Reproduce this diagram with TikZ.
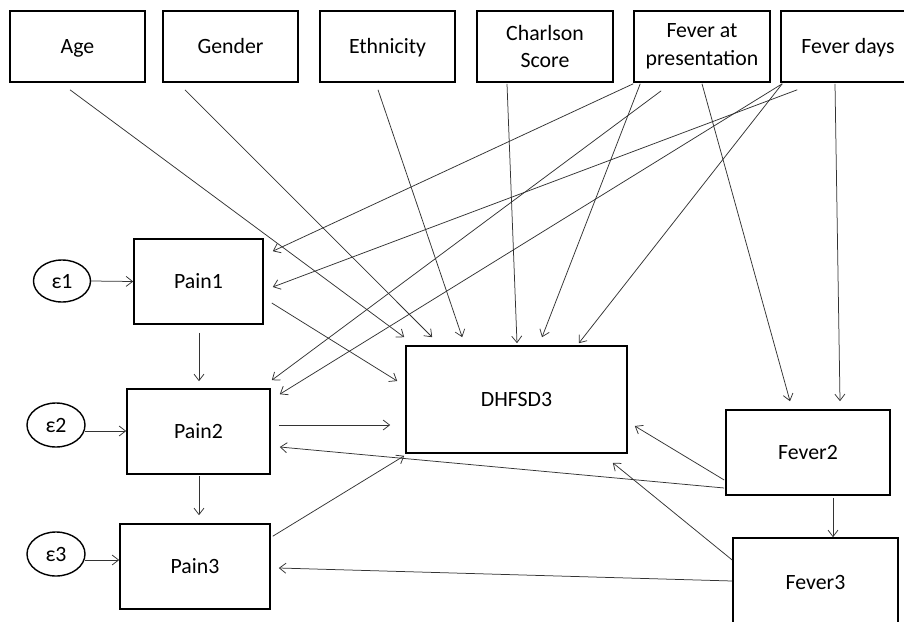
\documentclass[tikz,border=0pt]{standalone}
\usepackage{fontspec}
\setmainfont{Carlito}
\usetikzlibrary{arrows.meta,shapes.geometric}
\begin{document}
\begin{tikzpicture}[x=1pt,y=-1pt,
  box/.style={draw=black,line width=1.6pt,rectangle,inner sep=0pt,align=center,
    font=\fontsize{21.8}{27.5}\selectfont},
  one/.style={text height=14pt,text depth=0pt},
  err/.style={draw=black,line width=1.4pt,ellipse,inner sep=0pt,
    text height=14pt,text depth=0pt,
    font=\fontsize{21.8}{27.5}\selectfont},
  conn/.style={draw=black!80,line width=0.75pt,-{Straight Barb[length=6.5pt,width=10pt,line width=0.75pt]}}]
\useasboundingbox (0,0) rectangle (904,621);
\clip (0,0) rectangle (904,621);
\fill[white] (0,0) rectangle (904,621);
% top row
\node[box,one,minimum width=135pt,minimum height=71pt] (age) at (77.5,46.5) {Age};
\node[box,one,minimum width=135pt,minimum height=71pt] (gender) at (230.5,46.5) {Gender};
\node[box,one,minimum width=135pt,minimum height=71pt] (eth) at (387.5,46.5) {Ethnicity};
\node[box,minimum width=136pt,minimum height=71pt] (charl) at (545,46.5) {Charlson\\Score};
\node[box,minimum width=136pt,minimum height=71pt] (fpres) at (702,46.5) {Fever at\\presentation};
\node[box,one,minimum width=134pt,minimum height=71pt] (fdays) at (848,46.5) {Fever days};
% pain chain
\node[box,one,minimum width=129pt,minimum height=85pt] (pain1) at (198.5,281.5) {Pain1};
\node[box,one,minimum width=143pt,minimum height=85pt] (pain2) at (198.5,431.5) {Pain2};
\node[box,one,minimum width=150pt,minimum height=85pt] (pain3) at (195,566.5) {Pain3};
\node[err,minimum width=57pt,minimum height=42pt] (e1) at (62,281) {ε1};
\node[err,minimum width=58pt,minimum height=44pt] (e2) at (56,425) {ε2};
\node[err,minimum width=58pt,minimum height=44pt] (e3) at (56,554) {ε3};
% outcome and fever
\node[box,one,minimum width=221pt,minimum height=107pt] (dh) at (516.5,399.5) {DHFSD3};
\node[box,one,minimum width=164pt,minimum height=85pt] (fever2) at (808,452.5) {Fever2};
\node[box,one,minimum width=165pt,minimum height=88pt] (fever3) at (815.5,582) {Fever3};
% connectors to DHFSD3 from top
\draw[conn] ([shift={(-7.5,7)}]age.south) -- ([shift={(-1,-8)}]dh.north west);
\draw[conn] ([shift={(-45.5,7)}]gender.south) -- ([shift={(27,-8)}]dh.north west);
\draw[conn] ([shift={(-9.5,7)}]eth.south) -- ([shift={(57,-8)}]dh.north west);
\draw[conn] ([shift={(-38,1)}]charl.south) -- ([shift={(0.5,-2)}]dh.north);
% fever at presentation
\draw[conn] ([shift={(0,1)}]fpres.south west) -- ([shift={(9,13)}]pain1.north east);
\draw[conn] ([shift={(7,1)}]fpres.south west) -- ([shift={(25.5,-8)}]dh.north);
\draw[conn] ([shift={(28,8)}]fpres.south west) -- ([shift={(1,-8)}]pain2.north east);
\draw[conn] ([shift={(0,1)}]fpres.south) -- ([shift={(-18,-8)}]fever2.north);
% fever days
\draw[conn] ([shift={(17,7)}]fdays.south west) -- ([shift={(9,5.5)}]pain1.east);
\draw[conn] ([shift={(2,1)}]fdays.south west) -- ([shift={(9,6)}]pain2.north east);
\draw[conn] ([shift={(2,1)}]fdays.south west) -- ([shift={(-49,-2)}]dh.north east);
\draw[conn] ([shift={(-13,1)}]fdays.south) -- ([shift={(32,-8)}]fever2.north);
% pain to DHFSD3
\draw[conn] ([shift={(8,21.5)}]pain1.east) -- ([shift={(-8,-18.5)}]dh.west);
\draw[conn] ([shift={(8,-6.5)}]pain2.east) -- ([shift={(-15,25.5)}]dh.west);
\draw[conn] ([shift={(2,13)}]pain3.north east) -- ([shift={(-1,2)}]dh.south west);
% fever2 / fever3
\draw[conn] ([shift={(-1,27.5)}]fever2.west) -- ([shift={(7,26.5)}]dh.east);
\draw[conn] ([shift={(-1,35.5)}]fever2.west) -- ([shift={(9,15.5)}]pain2.east);
\draw[conn] ([shift={(0,-22)}]fever3.west) -- ([shift={(-15,9)}]dh.south east);
\draw[conn] ([shift={(0,-1)}]fever3.west) -- ([shift={(8,1.5)}]pain3.east);
\draw[conn] ([shift={(25,2)}]fever2.south) -- ([shift={(17.5,0)}]fever3.north);
% pain chain
\draw[conn] ([shift={(0.5,8)}]pain1.south) -- ([shift={(0.5,-7)}]pain2.north);
\draw[conn] ([shift={(0.5,1)}]pain2.south) -- ([shift={(4,-8)}]pain3.north);
\draw[conn] (e1.east) -- (pain1.west);
\draw[conn] ([shift={(-1,6)}]e2.east) -- ([shift={(0,-0.5)}]pain2.west);
\draw[conn] ([shift={(-1,6)}]e3.east) -- ([shift={(0,-6.5)}]pain3.west);
\end{tikzpicture}
\end{document}
